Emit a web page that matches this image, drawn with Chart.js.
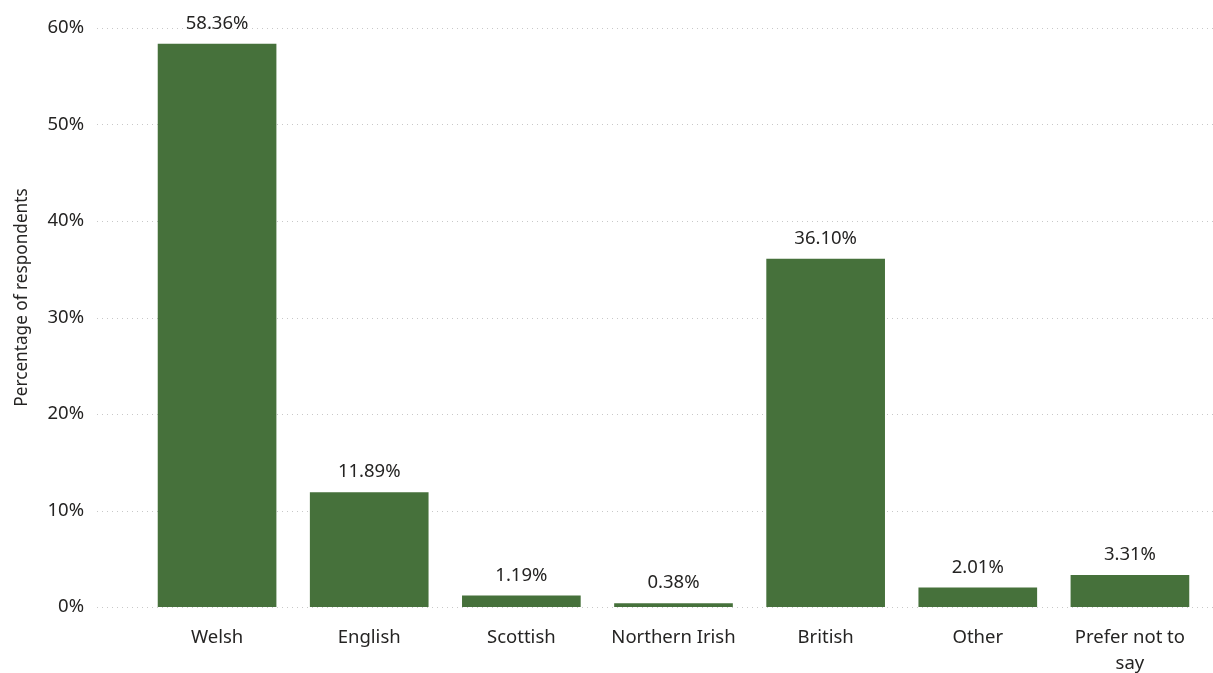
<!DOCTYPE html>
<html>
<head>
<meta charset="utf-8">
<script src="https://cdn.jsdelivr.net/npm/chart.js@4"></script>
<style>
  html, body { margin: 0; padding: 0; background: #fff; }
  canvas { display: block; }
</style>
</head>
<body>
<canvas id="identity" width="1213" height="673"></canvas>
<script>
// National identity of respondents
const categories = ['Welsh', 'English', 'Scottish', 'Northern Irish', 'British', 'Other', ['Prefer not to', 'say']];
const shares = [58.36, 11.89, 1.19, 0.38, 36.10, 2.01, 3.31];
const yTicks = [0, 10, 20, 30, 40, 50, 60];
const yTitle = 'Percentage of respondents';

const barColour = '#46713B';
const textColour = '#252423';
const fontFamily = '"Noto Sans", "Open Sans", sans-serif';

// dotted horizontal guides, drawn a bit wider than the bar area
const dottedGrid = {
    id: 'dottedGrid',
    beforeDatasetsDraw(chart) {
        const ctx = chart.ctx;
        const y = chart.scales.y;
        ctx.save();
        ctx.strokeStyle = '#c8c8c8';
        ctx.lineWidth = 1;
        ctx.setLineDash([1, 4]);
        yTicks.forEach(v => {
            const py = Math.round(y.getPixelForValue(v)) + 0.5;
            ctx.beginPath();
            ctx.moveTo(97, py);
            ctx.lineTo(chart.width, py);
            ctx.stroke();
        });
        ctx.restore();
    }
};

// value labels above each bar
const valueLabels = {
    id: 'valueLabels',
    afterDatasetsDraw(chart) {
        const ctx = chart.ctx;
        const meta = chart.getDatasetMeta(0);
        ctx.save();
        ctx.font = '18.5px ' + fontFamily;
        ctx.fillStyle = textColour;
        ctx.textAlign = 'center';
        ctx.textBaseline = 'bottom';
        meta.data.forEach((bar, i) => {
            ctx.fillText(shares[i].toFixed(2) + '%', bar.x, bar.y - 11);
        });
        ctx.restore();
    }
};

// rotated y axis title, sitting slightly above the middle of the plot
const axisTitle = {
    id: 'axisTitle',
    afterDraw(chart) {
        const ctx = chart.ctx;
        const area = chart.chartArea;
        ctx.save();
        ctx.translate(22, (area.top + area.bottom) / 2 - 20);
        ctx.rotate(-Math.PI / 2);
        ctx.font = '17.2px ' + fontFamily;
        ctx.fillStyle = textColour;
        ctx.textAlign = 'center';
        ctx.textBaseline = 'middle';
        ctx.fillText(yTitle, 0, 0);
        ctx.restore();
    }
};

new Chart(document.getElementById('identity'), {
    type: 'bar',
    data: {
        labels: categories,
        datasets: [{
            data: shares,
            backgroundColor: barColour,
            borderWidth: 0,
            barPercentage: 0.78,
            categoryPercentage: 1
        }]
    },
    options: {
        responsive: false,
        animation: false,
        layout: { padding: { top: 28, right: 7, bottom: 0, left: 0 } },
        plugins: {
            legend: { display: false },
            tooltip: { enabled: false }
        },
        scales: {
            x: {
                grid: { display: false, drawTicks: false },
                border: { display: false },
                ticks: {
                    color: textColour,
                    font: { family: fontFamily, size: 18.5, lineHeight: 1.4 },
                    padding: 18,
                    maxRotation: 0,
                    autoSkip: false
                },
                afterFit(scale) { scale.height = 66; }
            },
            y: {
                min: 0,
                max: 60,
                grid: { display: false, drawTicks: false },
                border: { display: false },
                ticks: {
                    stepSize: 10,
                    color: textColour,
                    font: { family: fontFamily, size: 18.5 },
                    padding: 57,
                    callback: v => v + '%'
                },
                afterFit(scale) {
                    // keep the wide label gap from inflating top/bottom padding
                    scale.width = 141;
                    scale.paddingTop = 0;
                    scale.paddingBottom = 0;
                }
            }
        }
    },
    plugins: [dottedGrid, valueLabels, axisTitle]
});
</script>
</body>
</html>
